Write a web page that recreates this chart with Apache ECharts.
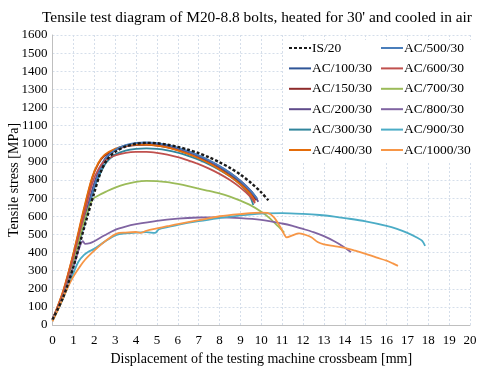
<!DOCTYPE html>
<html>
<head>
<meta charset="utf-8">
<script src="https://cdn.jsdelivr.net/npm/echarts@6/dist/echarts.min.js"></script>
<style>
  html, body { margin: 0; padding: 0; background: #fff; }
  #chart { width: 479px; height: 372px; }
</style>
</head>
<body>
<div id="chart"></div>
<script>
// displacement [mm], stress [MPa]
const is20 = [[0,30],[0.5,150],[1,320],[1.5,530],[2,730],[2.3,840],[2.6,910],[3,955],[3.5,985],[4,1000],[4.5,1005],[5,1003],[5.5,995],[6,983],[6.5,967],[7,948],[7.5,925],[8,898],[8.5,867],[9,830],[9.5,785],[10,732],[10.34,688]]
const ac100 = [[0,30],[0.5,165],[1,350],[1.5,570],[2,780],[2.3,870],[2.6,930],[3,968],[3.5,990],[4,1002],[4.5,1005],[5,1000],[5.5,990],[6,975],[6.5,955],[7,932],[7.5,905],[8,872],[8.5,835],[9,790],[9.5,738],[9.8,695]]
const ac150 = [[0,30],[0.5,180],[1,390],[1.5,630],[1.9,810],[2.2,890],[2.5,935],[3,968],[3.5,985],[4,993],[4.5,994],[5,990],[5.5,980],[6,965],[6.5,945],[7,922],[7.5,895],[8,862],[8.5,825],[9,780],[9.5,725],[9.75,690]]
const ac200 = [[0,30],[0.5,160],[1,345],[1.5,565],[2,775],[2.3,865],[2.6,925],[3,963],[3.5,985],[4,997],[4.5,1000],[5,997],[5.5,988],[6,974],[6.5,955],[7,933],[7.5,907],[8,876],[8.5,840],[9,796],[9.5,740],[9.86,680]]
const ac300 = [[0,30],[0.5,155],[1,335],[1.5,550],[2,755],[2.3,840],[2.6,900],[3,940],[3.5,962],[4,972],[4.5,975],[5,972],[5.5,964],[6,951],[6.5,933],[7,912],[7.5,886],[8,856],[8.5,820],[9,775],[9.4,722],[9.62,662]]
const ac400 = [[0,30],[0.5,185],[1,395],[1.5,640],[1.9,815],[2.2,895],[2.5,940],[3,972],[3.5,988],[4,995],[4.5,995],[5,990],[5.5,980],[6,964],[6.5,944],[7,920],[7.5,892],[8,858],[8.5,820],[9,775],[9.5,718],[9.7,680]]
const ac500 = [[0,30],[0.5,150],[1,330],[1.5,545],[2,760],[2.3,860],[2.6,925],[3,966],[3.5,992],[4,1005],[4.5,1008],[5,1004],[5.5,994],[6,979],[6.5,959],[7,936],[7.5,909],[8,877],[8.5,840],[9,795],[9.5,740],[9.8,698]]
const ac600 = [[0,30],[0.5,170],[1,370],[1.5,600],[1.9,780],[2.2,860],[2.5,905],[3,935],[3.5,950],[4,955],[4.5,955],[5,950],[5.5,940],[6,926],[6.5,908],[7,888],[7.5,863],[8,834],[8.5,800],[9,758],[9.5,705],[9.7,672]]
const ac700 = [[0,25],[0.5,150],[1,335],[1.5,560],[1.9,690],[2.2,715],[2.6,738],[3,758],[3.5,777],[4,790],[4.5,795],[5,794],[5.5,788],[6,778],[6.5,766],[7,752],[7.5,740],[8,726],[8.5,708],[9,686],[9.5,660],[10,625],[10.4,590],[10.8,545],[11.1,510]]
const ac800 = [[0,30],[0.5,150],[1,320],[1.3,430],[1.45,462],[1.56,448],[1.8,452],[2,462],[2.5,495],[3,525],[3.5,543],[4,556],[5,575],[6,587],[7,593],[8,594],[9,590],[10,580],[11,560],[11.5,547],[12,530],[12.5,512],[13,490],[13.5,462],[13.9,435],[14.3,402]]
const ac900 = [[0,22],[0.5,145],[1,285],[1.24,349],[1.5,385],[1.72,404],[2,420],[2.5,460],[3.07,497],[3.5,505],[4,510],[4.5,512],[4.9,508],[5.1,528],[5.5,540],[6,553],[7,573],[8,590],[9,605],[10,615],[11,617],[12,613],[12.8,607],[13.5,598],[14,590],[15,572],[16,547],[16.5,530],[17,508],[17.5,480],[17.7,465],[17.85,436]]
const ac1000 = [[0,20],[0.36,110],[0.7,200],[1,267],[1.3,320],[1.56,360],[2,410],[2.5,460],[3.07,504],[3.5,510],[4,513],[4.2,508],[4.5,520],[5,533],[5.5,545],[6,557],[7,578],[8,600],[9,612],[10,620],[10.3,618],[10.6,595],[10.9,543],[11.1,500],[11.22,484],[11.5,495],[11.8,506],[12.1,498],[12.4,484],[12.7,458],[13,445],[13.5,435],[14,425],[14.5,410],[15,393],[15.5,373],[16,355],[16.3,340],[16.55,326]]

const names1 = ['IS/20', 'AC/100/30', 'AC/150/30', 'AC/200/30', 'AC/300/30', 'AC/400/30']
const names2 = ['AC/500/30', 'AC/600/30', 'AC/700/30', 'AC/800/30', 'AC/900/30', 'AC/1000/30']
const curves = [is20, ac100, ac150, ac200, ac300, ac400, ac500, ac600, ac700, ac800, ac900, ac1000]
const colors = ['#1a1a1a', '#2F5597', '#8E2B2B', '#5F4B8B', '#31859C', '#E46C0A',
  '#4A7EBB', '#C0504D', '#9BBB59', '#8064A2', '#4BACC6', '#F79646']

const font = 'Liberation Serif'
const names = names1.concat(names2)
const series = curves.map((d, i) => ({
  name: names[i],
  type: 'line',
  data: d,
  smooth: 0.3,
  showSymbol: false,
  symbol: 'none',
  z: i === 0 ? 5 : 2,
  lineStyle: {
    color: colors[i],
    width: i === 0 ? 2.4 : 1.8,
    type: i === 0 ? [3, 2] : 'solid'
  },
  itemStyle: { color: colors[i] }
}))

const legendBase = {
  orient: 'vertical',
  top: 40,
  itemWidth: 22,
  itemHeight: 14,
  itemGap: 6.4,
  padding: [1, 4, 6, 4],
  backgroundColor: '#fff',
  itemStyle: { opacity: 0 },
  textStyle: { fontFamily: font, fontSize: 13.5, color: '#000', padding: [0, 0, 0, -4] }
}

echarts.init(document.getElementById('chart')).setOption({
  animation: false,
  title: {
    text: "Tensile test diagram of M20-8.8 bolts, heated for 30' and cooled in air",
    left: 37,
    top: 5,
    textStyle: { fontFamily: font, fontSize: 15.4, fontWeight: 'normal', color: '#000' }
  },
  legend: [
    Object.assign({ left: 284, data: names1 }, legendBase),
    Object.assign({ left: 376, data: names2 }, legendBase)
  ],
  grid: { left: 52.5, right: 9, top: 35, bottom: 47, outerBoundsMode: 'none', containLabel: false },
  xAxis: {
    type: 'value',
    min: 0,
    max: 20,
    interval: 1,
    name: 'Displacement of the testing machine crossbeam [mm]',
    nameLocation: 'middle',
    nameGap: 27,
    nameMoveOverlap: false,
    nameTextStyle: { fontFamily: font, fontSize: 14, color: '#000' },
    axisLine: { lineStyle: { color: '#BFBFBF' } },
    axisTick: { show: false },
    axisLabel: { fontFamily: font, fontSize: 13, color: '#000', margin: 9 },
    splitLine: { lineStyle: { color: '#D5DEEA', type: [2, 2] } }
  },
  yAxis: {
    type: 'value',
    min: 0,
    max: 1600,
    interval: 100,
    name: 'Tensile stress [MPa]',
    nameLocation: 'middle',
    nameGap: 31,
    nameMoveOverlap: false,
    nameTextStyle: { fontFamily: font, fontSize: 14, color: '#000' },
    axisLine: { show: true, lineStyle: { color: '#BFBFBF' } },
    axisTick: { show: false },
    axisLabel: { fontFamily: font, fontSize: 13, color: '#000', margin: 5, formatter: v => String(v) },
    splitLine: { lineStyle: { color: '#D5DEEA', type: [2, 2] } }
  },
  series
})
</script>
</body>
</html>
